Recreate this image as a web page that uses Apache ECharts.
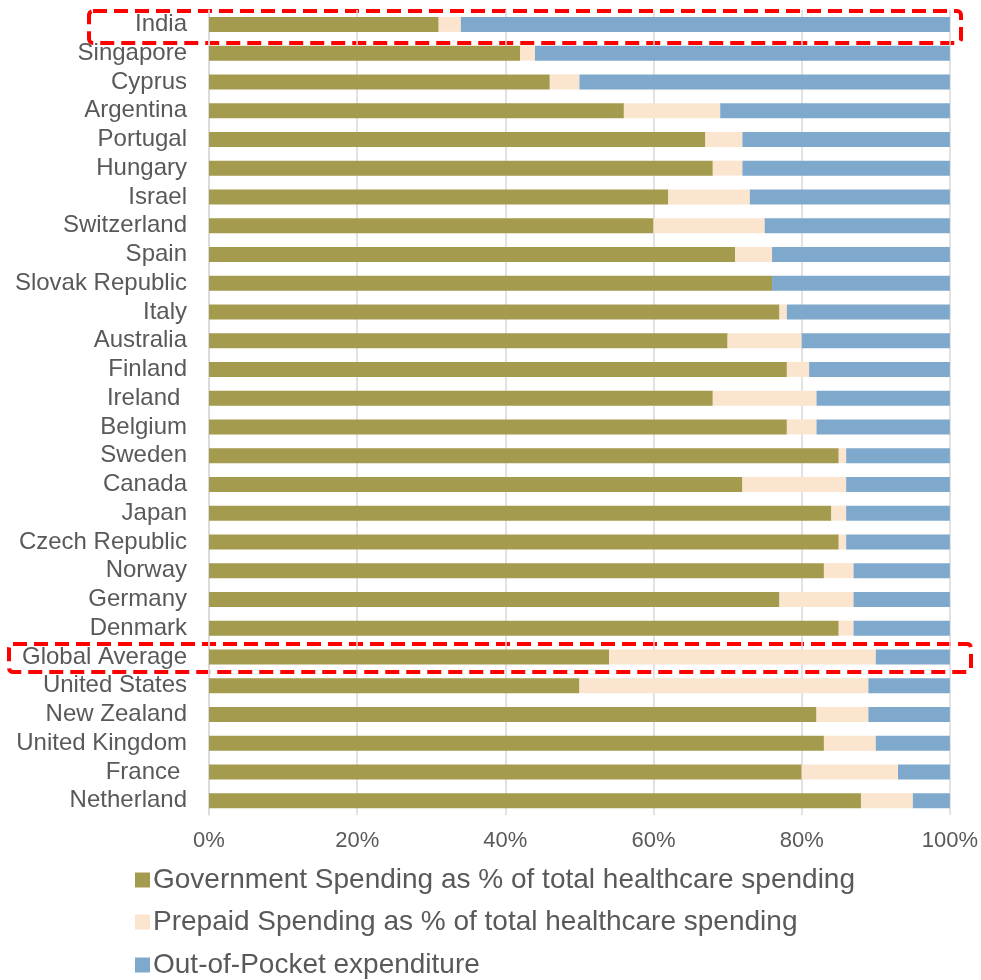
<!DOCTYPE html>
<html>
<head>
<meta charset="utf-8">
<script src="https://cdn.jsdelivr.net/npm/echarts@6/dist/echarts.min.js"></script>
<style>
  html, body { margin: 0; padding: 0; background: #fff; }
  #main { width: 981px; height: 980px; }
</style>
</head>
<body>
<div id="main"></div>
<script>
// countries, top to bottom as in the picture
var countries = ['India', 'Singapore', 'Cyprus', 'Argentina', 'Portugal', 'Hungary', 'Israel',
  'Switzerland', 'Spain', 'Slovak Republic', 'Italy', 'Australia', 'Finland', 'Ireland ',
  'Belgium', 'Sweden', 'Canada', 'Japan', 'Czech Republic', 'Norway', 'Germany', 'Denmark',
  'Global Average', 'United States', 'New Zealand', 'United Kingdom', 'France ', 'Netherland']
var govSpending = [31, 42, 46, 56, 67, 68, 62, 60, 71, 76, 77, 70, 78, 68,
  78, 85, 72, 84, 85, 83, 77, 85, 54, 50, 82, 83, 80, 88]
var prepaidSpending = [3, 2, 4, 13, 5, 4, 11, 15, 5, 0, 1, 10, 3, 14,
  4, 1, 14, 2, 1, 4, 10, 2, 36, 39, 7, 7, 13, 7]
var outOfPocket = [66, 56, 50, 31, 28, 28, 27, 25, 24, 24, 22, 20, 19, 18,
  18, 14, 14, 14, 14, 13, 13, 13, 10, 11, 11, 10, 7, 5]
var seriesNames = ['Government Spending as % of total healthcare spending',
  'Prepaid Spending as % of total healthcare spending',
  'Out-of-Pocket expenditure']
var colors = ['#a59b4e', '#fbe5cf', '#7fa9cc']

var font = 'Liberation Sans, Arial, sans-serif'
var chart = echarts.init(document.getElementById('main'))

function barSeries(i, data) {
  return {
    name: seriesNames[i],
    type: 'bar',
    stack: 'total',
    barWidth: 15,
    data: data,
    itemStyle: { color: colors[i] },
    emphasis: { disabled: true }
  }
}

// one legend per row so they stack one under the other
function legendRow(i, top) {
  return {
    left: 130,
    top: top,
    itemWidth: 15,
    itemHeight: 15,
    itemGap: 8,
    icon: 'rect',
    selectedMode: false,
    textStyle: { color: '#595959', fontSize: 28, fontFamily: font, padding: [0, 0, 0, -2] },
    data: [seriesNames[i]]
  }
}

chart.setOption({
  animation: false,
  textStyle: { fontFamily: font },
  grid: { left: 209, right: 30, top: 10, bottom: 165 },
  xAxis: {
    type: 'value',
    min: 0,
    max: 100,
    interval: 20,
    axisLine: { show: false },
    axisTick: { show: false },
    splitLine: { lineStyle: { color: '#d9d9d9', width: 1.5 } },
    axisLabel: {
      formatter: '{value}%',
      color: '#595959',
      fontSize: 22,
      margin: 15,
      fontFamily: font
    }
  },
  yAxis: {
    type: 'category',
    inverse: true,
    data: countries,
    axisLine: { lineStyle: { color: '#d9d9d9', width: 1.5 } },
    axisTick: { show: false },
    axisLabel: {
      interval: 0,
      color: '#595959',
      fontSize: 24,
      lineHeight: 24,
      margin: 22,
      fontFamily: font
    }
  },
  legend: [legendRow(0, 861), legendRow(1, 903), legendRow(2, 946)],
  // red dashed highlight boxes
  graphic: [
    {
      type: 'rect',
      shape: { x: 89, y: 11, width: 872, height: 32, r: 4 },
      style: { fill: 'none', stroke: '#ff0000', lineWidth: 4, lineDash: [14, 7] }
    },
    {
      type: 'rect',
      shape: { x: 9, y: 644, width: 962, height: 28, r: 4 },
      style: { fill: 'none', stroke: '#ff0000', lineWidth: 4, lineDash: [14, 7] }
    }
  ],
  series: [
    barSeries(0, govSpending),
    barSeries(1, prepaidSpending),
    barSeries(2, outOfPocket)
  ]
})
</script>
</body>
</html>
